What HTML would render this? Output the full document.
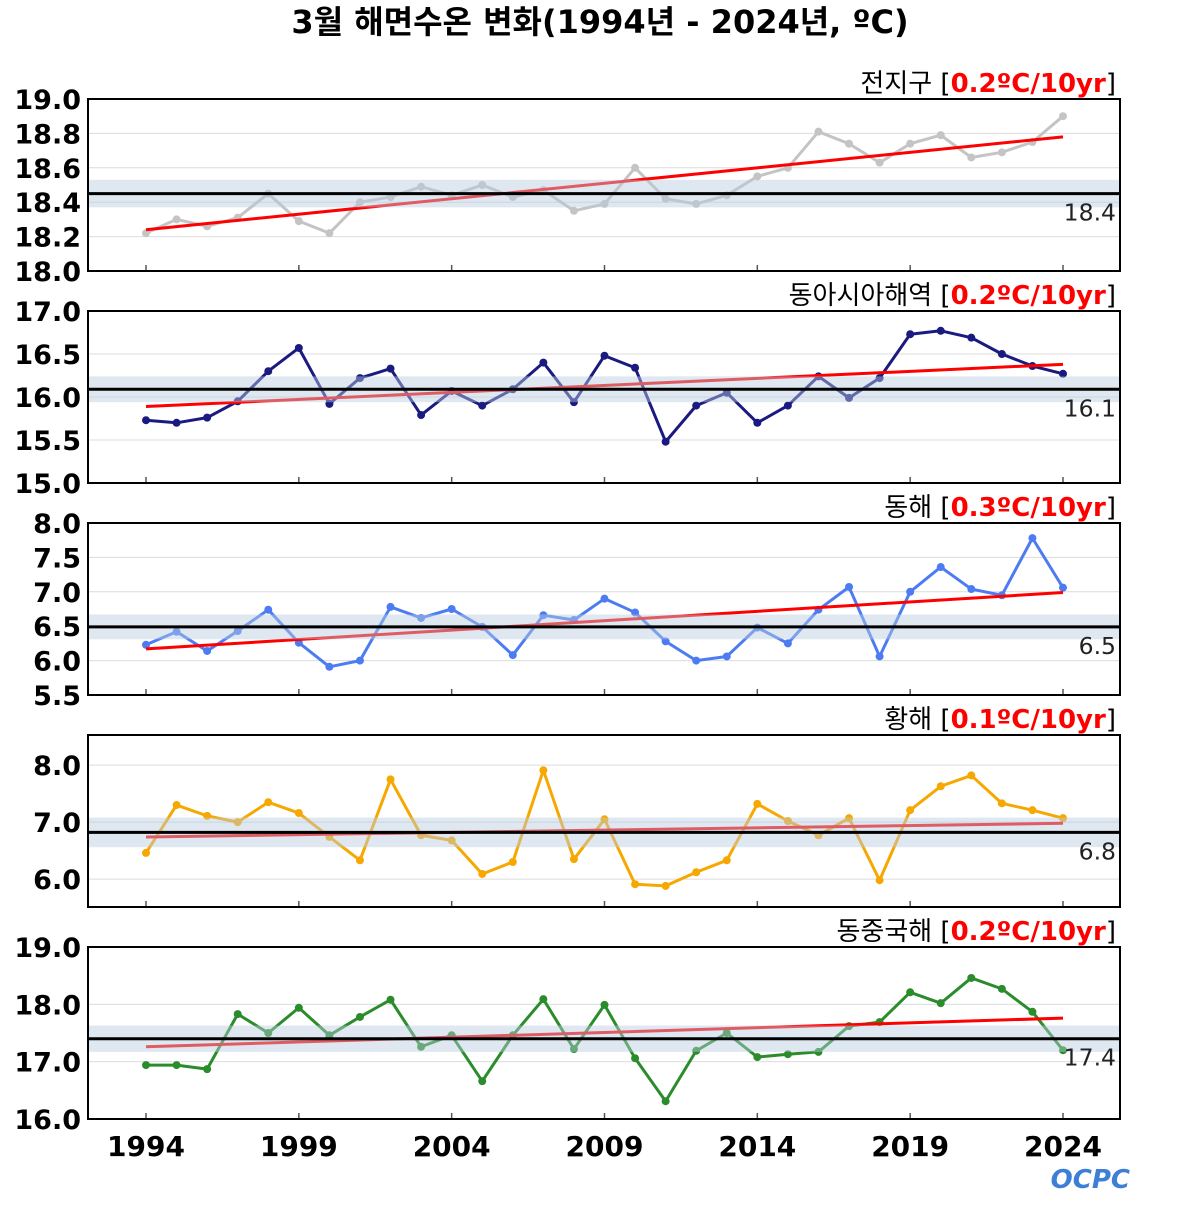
<!DOCTYPE html>
<html><head><meta charset="utf-8"><style>
body{margin:0;background:#fff;width:1200px;height:1200px;overflow:hidden}
text{font-family:"DejaVu Sans","Liberation Sans","Noto Sans CJK KR",sans-serif}
</style></head><body>
<svg id="c" width="1200" height="1200" xmlns="http://www.w3.org/2000/svg">
<text x="600" y="33" text-anchor="middle" font-size="32" font-weight="bold" style="font-family:'DejaVu Sans','Noto Sans CJK KR',sans-serif">3월 해면수온 변화(1994년 - 2024년, ºC)</text>
<text x="1130" y="1188" text-anchor="end" font-size="26" font-weight="bold" fill="#3d7fd6" font-style="italic">OCPC</text>
</svg>
<script>
const years=[];for(let y=1994;y<=2024;y++)years.push(y);
const xTickLabels=["1994","1999","2004","2009","2014","2019","2024"];
const globalVals=[18.22,18.30,18.26,18.31,18.45,18.29,18.22,18.40,18.43,18.49,18.44,18.50,18.43,18.47,18.35,18.39,18.60,18.42,18.39,18.44,18.55,18.60,18.81,18.74,18.63,18.74,18.79,18.66,18.69,18.75,18.90];
const eastAsiaVals=[15.73,15.70,15.76,15.95,16.30,16.57,15.92,16.22,16.33,15.79,16.07,15.90,16.09,16.40,15.94,16.48,16.34,15.48,15.90,16.05,15.70,15.90,16.24,15.99,16.22,16.73,16.77,16.69,16.50,16.36,16.27];
const eastSeaVals=[6.23,6.42,6.14,6.43,6.74,6.26,5.91,6.00,6.78,6.62,6.75,6.49,6.08,6.66,6.59,6.90,6.70,6.28,6.00,6.06,6.48,6.25,6.74,7.07,6.06,7.00,7.36,7.04,6.95,7.78,7.06];
const yellowSeaVals=[6.46,7.30,7.11,7.00,7.35,7.16,6.74,6.33,7.75,6.77,6.68,6.09,6.30,7.91,6.35,7.05,5.91,5.88,6.12,6.33,7.32,7.02,6.77,7.07,5.98,7.21,7.63,7.82,7.33,7.21,7.07];
const ecsVals=[16.94,16.94,16.87,17.83,17.50,17.94,17.46,17.78,18.08,17.26,17.46,16.66,17.46,18.09,17.22,17.99,17.06,16.31,17.19,17.50,17.08,17.13,17.17,17.62,17.69,18.21,18.02,18.46,18.27,17.87,17.20];
const panelNames=["전지구","동아시아해역","동해","황해","동중국해"];
const trendLabels=["0.2ºC/10yr","0.2ºC/10yr","0.3ºC/10yr","0.1ºC/10yr","0.2ºC/10yr"];
const means=[18.45,16.09,6.49,6.82,17.40];
const meanLabels=["18.4","16.1","6.5","6.8","17.4"];
const bandHalf=[0.08,0.15,0.18,0.26,0.23];
const trendStart=[18.24,15.89,6.17,6.74,17.26];
const trendEnd=[18.78,16.38,6.99,6.98,17.76];
const yMin=[18,15,5.5,5.51,16];
const yMax=[19,17,8,8.53,19];
const yTicks=[[18.0,18.2,18.4,18.6,18.8,19.0],[15.0,15.5,16.0,16.5,17.0],[5.5,6.0,6.5,7.0,7.5,8.0],[6.0,7.0,8.0],[16.0,17.0,18.0,19.0]];
const yTickDigits=[1,1,1,1,1];
const series=[globalVals,eastAsiaVals,eastSeaVals,yellowSeaVals,ecsVals];
const colors=["#c4c4c4","#1a1a80","#4d7cf2","#f7a800","#2a8c2a"];
const NS="http://www.w3.org/2000/svg";
const svg=document.getElementById('c');
const L=88,R=1120,H=172;
const xs=y=>146+(y-1994)*(1063-146)/30;
function mk(tag,attrs,parent){const e=document.createElementNS(NS,tag);for(const k in attrs)e.setAttribute(k,attrs[k]);(parent||svg).appendChild(e);return e;}
for(let p=0;p<5;p++){
  const top=99+p*212,bot=top+H;
  const ys=v=>bot-(v-yMin[p])/(yMax[p]-yMin[p])*H;
  const g=mk('g',{});
  
  
  yTicks[p].forEach(t=>{
    const gl=mk('line',{x1:L,x2:R,y1:ys(t),y2:ys(t),stroke:'#dcdcdc','stroke-width':1},g);
    
    
    const tl=mk('text',{x:81,y:ys(t)+10,'text-anchor':'end','font-size':27,'font-weight':'bold'},g);
    
    
    tl.textContent=t.toFixed(yTickDigits[p]);
  });
  xTickLabels.forEach(s=>{
    const tk=mk('line',{x1:xs(+s),x2:xs(+s),y1:bot-6,y2:bot,stroke:'#555','stroke-width':1.5},g);
    
    
  });
  const pts=series[p].map((v,i)=>xs(years[i])+','+ys(v)).join(' ');
  const ln=mk('polyline',{points:pts,fill:'none',stroke:colors[p],'stroke-width':3,'stroke-linejoin':'round'},g);
  
  
  series[p].forEach((v,i)=>{
    const c=mk('circle',{cx:xs(years[i]),cy:ys(v),r:4,fill:colors[p]},g);
    
    
  });
  const tr=mk('line',{x1:xs(1994),x2:xs(2024),y1:ys(trendStart[p]),y2:ys(trendEnd[p]),stroke:'#f00','stroke-width':3},g);
  
  
  const bd=mk('rect',{x:L,width:R-L,y:ys(means[p]+bandHalf[p]),height:ys(means[p]-bandHalf[p])-ys(means[p]+bandHalf[p]),fill:'#b8cde0','fill-opacity':0.45},g);
  
  
  const ml=mk('line',{x1:L,x2:R,y1:ys(means[p]),y2:ys(means[p]),stroke:'#000','stroke-width':3},g);
  
  
  const mt=mk('text',{x:1116,y:ys(means[p])+27,'text-anchor':'end','font-size':23.5,fill:'#222'},g);
  
  
  mt.textContent=meanLabels[p];
  const fr=mk('rect',{x:L,y:top,width:R-L,height:H,fill:'none',stroke:'#000','stroke-width':2},g);
  
  
  const tt=mk('text',{x:1116,y:top-7,'text-anchor':'end','font-size':26},g);
  
  
  const a=mk('tspan',{},tt);a.textContent=panelNames[p]+' [';
  const b=mk('tspan',{fill:'#f00','font-weight':'bold'},tt);b.textContent=trendLabels[p];
  const c2=mk('tspan',{},tt);c2.textContent=']';
}
xTickLabels.forEach(s=>{
  const t=mk('text',{x:xs(+s),y:1156,'text-anchor':'middle','font-size':28,'font-weight':'bold'});
  
  
  t.textContent=s;
});
</script>
</body></html>
